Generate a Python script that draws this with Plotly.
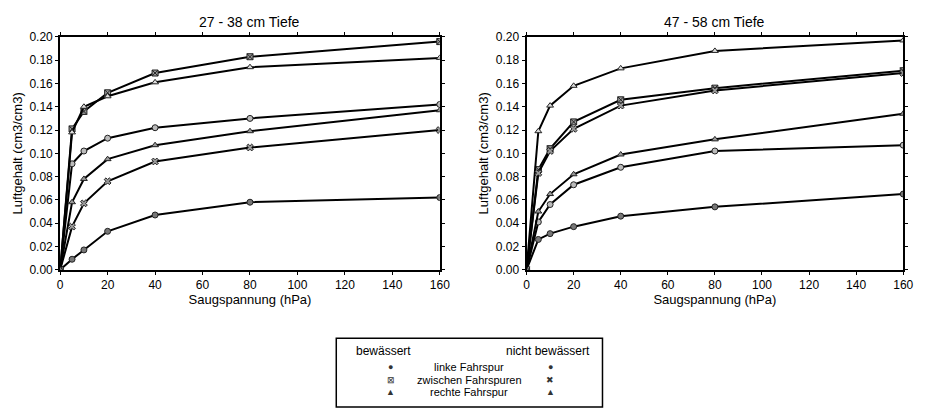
import plotly.graph_objects as go

x_hpa = [0, 5, 10, 20, 40, 80, 160]

# 27 - 38 cm Tiefe
l_links_bew = [0, 0.091, 0.102, 0.113, 0.122, 0.130, 0.142]
l_zwischen_bew = [0, 0.121, 0.136, 0.152, 0.169, 0.183, 0.196]
l_rechts_bew = [0, 0.118, 0.140, 0.149, 0.161, 0.174, 0.182]
l_links_nicht = [0, 0.009, 0.017, 0.033, 0.047, 0.058, 0.062]
l_zwischen_nicht = [0, 0.037, 0.057, 0.076, 0.093, 0.105, 0.120]
l_rechts_nicht = [0, 0.058, 0.078, 0.095, 0.107, 0.119, 0.137]

# 47 - 58 cm Tiefe
r_links_bew = [0, 0.041, 0.056, 0.073, 0.088, 0.102, 0.107]
r_zwischen_bew = [0, 0.086, 0.104, 0.127, 0.146, 0.156, 0.171]
r_rechts_bew = [0, 0.119, 0.141, 0.158, 0.173, 0.188, 0.197]
r_links_nicht = [0, 0.026, 0.031, 0.037, 0.046, 0.054, 0.065]
r_zwischen_nicht = [0, 0.083, 0.102, 0.121, 0.141, 0.154, 0.169]
r_rechts_nicht = [0, 0.050, 0.065, 0.082, 0.099, 0.112, 0.134]

titles = ["27 - 38 cm Tiefe", "47 - 58 cm Tiefe"]
x_ticks = [0, 20, 40, 60, 80, 100, 120, 140, 160]
y_ticks = [0.00, 0.02, 0.04, 0.06, 0.08, 0.10, 0.12, 0.14, 0.16, 0.18, 0.20]

FONT = "Liberation Sans, Arial, sans-serif"

fig = go.Figure()

styles = [
    ("circle", "#bbbbbb"),
    ("square-x", "#999999"),
    ("triangle-up", "#dddddd"),
    ("circle", "#777777"),
    ("x", "#999999"),
    ("triangle-up", "#999999"),
]

panels = [
    ("x", "y", [l_links_bew, l_zwischen_bew, l_rechts_bew, l_links_nicht, l_zwischen_nicht, l_rechts_nicht]),
    ("x2", "y2", [r_links_bew, r_zwischen_bew, r_rechts_bew, r_links_nicht, r_zwischen_nicht, r_rechts_nicht]),
]

for xa, ya, series in panels:
    for vals, (sym, col) in zip(series, styles):
        fig.add_trace(go.Scatter(
            x=x_hpa, y=vals, xaxis=xa, yaxis=ya, mode="lines+markers",
            line=dict(color="black", width=2),
            marker=dict(symbol=sym, size=6, color=col,
                        line=dict(color="#222222", width=1)),
            showlegend=False, hoverinfo="skip"))

yd = [1 - 272 / 410, 1 - 31 / 410]
axis_common = dict(showline=True, linecolor="black", linewidth=2, mirror="ticks",
                   ticks="outside", ticklen=3, tickwidth=1, tickcolor="black",
                   showgrid=False, zeroline=False,
                   tickfont=dict(family=FONT, size=12, color="black"))

fig.update_layout(
    width=929, height=410, margin=dict(l=0, r=0, t=0, b=0),
    paper_bgcolor="white", plot_bgcolor="white",
    font=dict(family=FONT, color="black"),
    xaxis=dict(domain=[58 / 929, 443 / 929], range=[0, 160], tickvals=x_ticks,
               title=dict(text="Saugspannung (hPa)", font=dict(size=13), standoff=3),
               anchor="y", **axis_common),
    yaxis=dict(domain=yd, range=[0, 0.2], tickvals=y_ticks, tickformat=".2f",
               title=dict(text="Luftgehalt (cm3/cm3)", font=dict(size=13), standoff=4),
               anchor="x", **axis_common),
    xaxis2=dict(domain=[531 / 929, 913 / 929], range=[0, 160], tickvals=x_ticks,
                title=dict(text="Saugspannung (hPa)", font=dict(size=13), standoff=3),
                anchor="y2", **axis_common),
    yaxis2=dict(domain=yd, range=[0, 0.2], tickvals=y_ticks, tickformat=".2f",
                title=dict(text="Luftgehalt (cm3/cm3)", font=dict(size=13), standoff=4),
                anchor="x2", **axis_common),
)

ann = []
for t, cx in zip(titles, [(58 + 443) / 2 / 929, (531 + 913) / 2 / 929]):
    ann.append(dict(text=t, x=cx, y=1 - 16 / 410, xref="paper", yref="paper",
                    showarrow=False, font=dict(size=14), xanchor="center", yanchor="middle"))

# legend box
fig.add_shape(type="rect", xref="paper", yref="paper",
              x0=338 / 929, x1=608 / 929, y0=-0.01, y1=1 - 343 / 410,
              line=dict(color="black", width=1.5))

def py(p):
    return 1 - p / 410

ann.append(dict(text="bewässert", x=356 / 929, y=py(356), xref="paper", yref="paper",
                showarrow=False, xanchor="left", yanchor="middle", font=dict(size=12)))
ann.append(dict(text="nicht bewässert", x=597 / 929, y=py(356), xref="paper", yref="paper",
                showarrow=False, xanchor="right", yanchor="middle", font=dict(size=12)))
rows = [("linke Fahrspur", "●", "●", 373), ("zwischen Fahrspuren", "⊠", "✖", 386),
        ("rechte Fahrspur", "▲", "▲", 399)]
for label, s1, s2, yy in rows:
    ann.append(dict(text=label, x=473 / 929, y=py(yy), xref="paper", yref="paper",
                    showarrow=False, xanchor="center", yanchor="middle", font=dict(size=11)))
    ann.append(dict(text=s1, x=393 / 929, y=py(yy), xref="paper", yref="paper",
                    showarrow=False, xanchor="center", yanchor="middle",
                    font=dict(size=9, color="#333333")))
    ann.append(dict(text=s2, x=555 / 929, y=py(yy), xref="paper", yref="paper",
                    showarrow=False, xanchor="center", yanchor="middle",
                    font=dict(size=9, color="#333333")))

fig.update_layout(annotations=ann)
fig.write_html("out.html")
